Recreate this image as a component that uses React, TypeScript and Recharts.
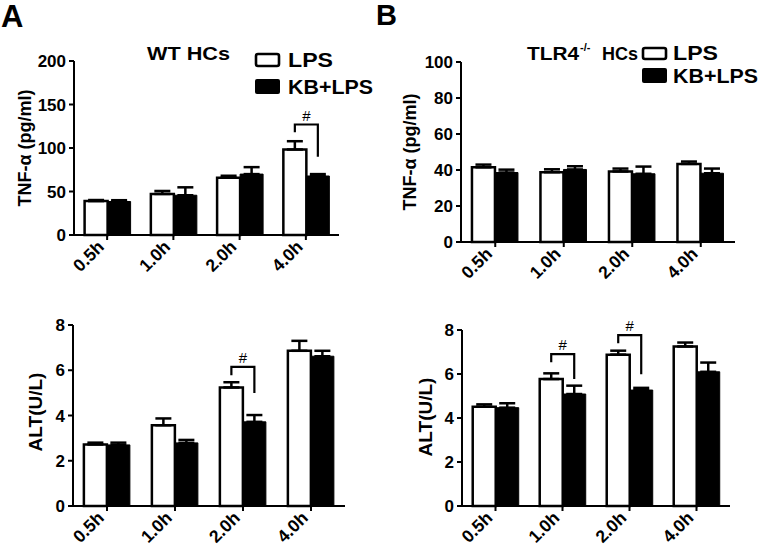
import React from 'react';
import { BarChart, Bar, XAxis, YAxis, ErrorBar, LabelList } from 'recharts';

const FONT = '"Liberation Sans", Arial, Helvetica, sans-serif';

const timepoints = ['0.5h', '1.0h', '2.0h', '4.0h'];

// TNF-α (pg/ml), WT HCs
const wtTnfLps = [39, 47.2, 65.8, 98.3];
const wtTnfLpsSem = [1.2, 3.4, 2.3, 9.5];
const wtTnfKb = [38.5, 45.7, 70, 67.8];
const wtTnfKbSem = [1.5, 9.1, 8, 2.2];

// TNF-α (pg/ml), TLR4-/- HCs
const koTnfLps = [41.5, 38.8, 39.2, 43.4];
const koTnfLpsSem = [1.5, 1.6, 1.6, 1.3];
const koTnfKb = [38.6, 40.3, 37.9, 38.2];
const koTnfKbSem = [1.6, 1.8, 4, 2.6];

// ALT (U/L), WT
const wtAltLps = [2.72, 3.57, 5.24, 6.86];
const wtAltLpsSem = [0.08, 0.3, 0.23, 0.44];
const wtAltKb = [2.7, 2.79, 3.72, 6.62];
const wtAltKbSem = [0.1, 0.13, 0.3, 0.24];

// ALT (U/L), TLR4-/-
const koAltLps = [4.51, 5.77, 6.88, 7.25];
const koAltLpsSem = [0.11, 0.26, 0.18, 0.18];
const koAltKb = [4.47, 5.09, 5.27, 6.1];
const koAltKbSem = [0.2, 0.38, 0.1, 0.42];

const tnfWtTicks = [0, 50, 100, 150, 200];
const tnfKoTicks = [0, 20, 40, 60, 80, 100];
const altTicks = [0, 2, 4, 6, 8];

// significance brackets: group index, bracket top, lower end over LPS bar, lower end over KB bar
const wtTnfSig = [{ group: 3, top: 127, lpsEnd: 118, kbEnd: 90 }];
const koTnfSig: any[] = [];
const wtAltSig = [{ group: 2, top: 6.15, lpsEnd: 5.78, kbEnd: 5.0 }];
const koAltSig = [
  { group: 1, top: 6.9, lpsEnd: 6.53, kbEnd: 5.77 },
  { group: 2, top: 7.77, lpsEnd: 7.4, kbEnd: 5.99 },
];

const Y_W = 50;
const X_H = 34;

const buildRows = (lps: number[], lpsSem: number[], kb: number[], kbSem: number[]) =>
  timepoints.map((t, i) => ({
    time: t,
    lps: lps[i],
    lpsErr: [0, lpsSem[i]],
    kb: kb[i],
    kbErr: [0, kbSem[i]],
  }));

const XTick = ({ x, y, payload }: any) => {
  const px = x - 2;
  const py = y + 6;
  return (
    <text
      x={px}
      y={py}
      transform={`rotate(-45, ${px}, ${py})`}
      textAnchor="end"
      fill="#000"
      fontSize={17.5}
      fontWeight={700}
      fontFamily={FONT}
    >
      {payload.value}
    </text>
  );
};

// drawn on the KB+LPS bar: its rect gives the y scale (height / value) and the LPS bar sits right next to it
const SigBracket = (props: any) => {
  const { index, value, sig } = props;
  const vb = props.viewBox || props;
  const s = sig.find((b: any) => b.group === index);
  if (!s || !vb || !value) return null;
  const base = vb.y + vb.height;
  const k = vb.height / value;
  const py = (v: number) => base - v * k;
  const xl = vb.x - vb.width / 2;
  const xr = vb.x + vb.width / 2;
  return (
    <g>
      <path
        d={`M${xl},${py(s.lpsEnd)} V${py(s.top)} H${xr} V${py(s.kbEnd)}`}
        fill="none"
        stroke="#000"
        strokeWidth={2.2}
      />
      <text x={(xl + xr) / 2} y={py(s.top) - 4} textAnchor="middle" fill="#000" fontSize={15} fontFamily={FONT}>
        #
      </text>
    </g>
  );
};

const Panel = ({ box, plot, data, yMax, ticks, sig }: any) => {
  const margin = {
    top: plot.y0 - box.top,
    left: plot.x0 - box.left - Y_W,
    right: box.left + box.width - plot.x1,
    bottom: box.top + box.height - plot.y1 - X_H,
  };
  const line = { stroke: '#000', strokeWidth: 2 };
  return (
    <div style={{ position: 'absolute', left: box.left, top: box.top }}>
      <BarChart
        width={box.width}
        height={box.height}
        data={data}
        margin={margin}
        barCategoryGap="16%"
        barGap={0}
      >
        <XAxis
          dataKey="time"
          height={X_H}
          interval={0}
          tickSize={5}
          tickMargin={2}
          axisLine={line}
          tickLine={line}
          tick={<XTick />}
        />
        <YAxis
          domain={[0, yMax]}
          ticks={ticks}
          width={Y_W}
          interval={0}
          tickSize={5}
          tickMargin={3}
          axisLine={line}
          tickLine={line}
          tick={{ fill: '#000', fontSize: 17, fontWeight: 700, fontFamily: FONT }}
        />
        <Bar dataKey="lps" fill="#fff" stroke="#000" strokeWidth={2.5} isAnimationActive={false}>
          <ErrorBar dataKey="lpsErr" direction="y" width={8} stroke="#000" strokeWidth={2.5} />
        </Bar>
        <Bar dataKey="kb" fill="#000" stroke="#000" strokeWidth={1} isAnimationActive={false}>
          <ErrorBar dataKey="kbErr" direction="y" width={8} stroke="#000" strokeWidth={2.5} />
          <LabelList dataKey="kb" content={(p: any) => <SigBracket {...p} sig={sig} />} />
        </Bar>
      </BarChart>
    </div>
  );
};

const txt = { fill: '#000', fontFamily: FONT, fontWeight: 700 } as const;

const Overlay = () => (
  <svg
    width={762}
    height={548}
    style={{ position: 'absolute', left: 0, top: 0, pointerEvents: 'none' }}
  >
    <text x={1} y={27} fontSize={31} {...txt}>A</text>
    <text x={376} y={25} fontSize={29} {...txt}>B</text>

    <text x={147} y={60} fontSize={17.5} textLength={83} lengthAdjust="spacingAndGlyphs" {...txt}>WT HCs</text>
    <rect x={256} y={54} width={23} height={12} fill="#fff" stroke="#000" strokeWidth={2.6} rx={2} />
    <text x={288} y={67} fontSize={19.5} textLength={45} lengthAdjust="spacingAndGlyphs" {...txt}>LPS</text>
    <rect x={255} y={79} width={25} height={15} fill="#000" rx={2} />
    <text x={288} y={94} fontSize={19.5} textLength={85} lengthAdjust="spacingAndGlyphs" {...txt}>KB+LPS</text>

    <text x={527} y={60} fontSize={17.5} textLength={52} lengthAdjust="spacingAndGlyphs" {...txt}>TLR4</text>
    <text x={580} y={51} fontSize={11} {...txt}>-/-</text>
    <text x={602} y={60} fontSize={17.5} textLength={36} lengthAdjust="spacingAndGlyphs" {...txt}>HCs</text>
    <rect x={643} y={48} width={23} height={11} fill="#fff" stroke="#000" strokeWidth={2.6} rx={2} />
    <text x={673} y={60} fontSize={19.5} textLength={45} lengthAdjust="spacingAndGlyphs" {...txt}>LPS</text>
    <rect x={642} y={68} width={25} height={15} fill="#000" rx={2} />
    <text x={673} y={83} fontSize={19.5} textLength={85} lengthAdjust="spacingAndGlyphs" {...txt}>KB+LPS</text>

    <text transform="translate(25,148) rotate(-90)" textAnchor="middle" dy="0.35em" fontSize={18} {...txt}>
      TNF-α (pg/ml)
    </text>
    <text transform="translate(410,152) rotate(-90)" textAnchor="middle" dy="0.35em" fontSize={18} {...txt}>
      TNF-α (pg/ml)
    </text>
    <text transform="translate(35,412) rotate(-90)" textAnchor="middle" dy="0.35em" fontSize={19} {...txt}>
      ALT(U/L)
    </text>
    <text transform="translate(425,417) rotate(-90)" textAnchor="middle" dy="0.35em" fontSize={19} {...txt}>
      ALT(U/L)
    </text>
  </svg>
);

export default function App() {
  return (
    <div style={{ position: 'absolute', left: 0, top: 0, width: 762, height: 548, background: '#fff' }}>
      <Panel
        box={{ left: 0, top: 30, width: 380, height: 270 }}
        plot={{ x0: 74, x1: 339, y0: 61, y1: 235 }}
        data={buildRows(wtTnfLps, wtTnfLpsSem, wtTnfKb, wtTnfKbSem)}
        yMax={200}
        ticks={tnfWtTicks}
        sig={wtTnfSig}
      />
      <Panel
        box={{ left: 380, top: 30, width: 382, height: 270 }}
        plot={{ x0: 461, x1: 735, y0: 62, y1: 242 }}
        data={buildRows(koTnfLps, koTnfLpsSem, koTnfKb, koTnfKbSem)}
        yMax={100}
        ticks={tnfKoTicks}
        sig={koTnfSig}
      />
      <Panel
        box={{ left: 0, top: 300, width: 380, height: 248 }}
        plot={{ x0: 73, x1: 345, y0: 325, y1: 506 }}
        data={buildRows(wtAltLps, wtAltLpsSem, wtAltKb, wtAltKbSem)}
        yMax={8}
        ticks={altTicks}
        sig={wtAltSig}
      />
      <Panel
        box={{ left: 380, top: 300, width: 382, height: 248 }}
        plot={{ x0: 462, x1: 730, y0: 330, y1: 506 }}
        data={buildRows(koAltLps, koAltLpsSem, koAltKb, koAltKbSem)}
        yMax={8}
        ticks={altTicks}
        sig={koAltSig}
      />
      <Overlay />
    </div>
  );
}
